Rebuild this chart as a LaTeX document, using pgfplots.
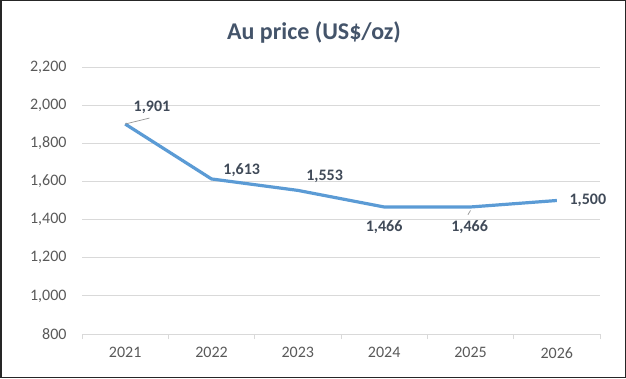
\documentclass[border=0pt]{standalone}
\usepackage{pgfplots}
\pgfplotsset{compat=1.18}
\usepackage{fontspec}
\setmainfont{Carlito}
\definecolor{ttl}{HTML}{44546A}
\definecolor{lbl}{HTML}{404A58}
\definecolor{tck}{HTML}{595959}
\definecolor{grd}{HTML}{D9D9D9}
\definecolor{ln}{HTML}{5B9BD5}
\begin{document}
\begin{tikzpicture}[x=1pt,y=1pt]
\path[use as bounding box] (0,0) rectangle (626,378);
\draw[line width=1.5pt,black!85] (0.75,0.75) rectangle (625.25,377.25);
\node[font=\fontsize{24}{28}\selectfont\bfseries,text=ttl] at (314,346) {Au price (US\$/oz)};
\begin{axis}[
  at={(82pt,44pt)}, anchor=south west,
  scale only axis, width=518pt, height=267pt,
  xmin=-0.5, xmax=5.5, ymin=800, ymax=2200,
  xtick={0,1,2,3,4,5},
  xticklabels={2021,2022,2023,2024,2025,2026},
  minor xtick={-0.5,0.5,1.5,2.5,3.5,4.5,5.5},
  ytick={800,1000,...,2200},
  axis x line=bottom, axis y line=left,
  axis line style={draw=none,-},
  tick align=outside,
  major tick length=0pt,
  minor tick length=5pt,
  minor tick style={draw=grd,line width=0.75pt},
  ytick style={draw=none},
  ymajorgrids, grid style={draw=grd,line width=0.75pt},
  /pgf/number format/assume math mode=true,
  /pgf/number format/1000 sep={,},
  ticklabel style={font=\fontsize{16}{18}\selectfont,text=tck},
  yticklabel style={xshift=-12pt},
  xticklabel style={yshift=-10pt},
  clip=false,
]
\addplot[ln,line width=3.2pt,line join=round] coordinates {
(0,1901) (1,1613) (2,1553) (3,1466) (4,1466) (5,1500)};
\draw[black!40,line width=0.75pt] (axis cs:0,1901) -- (axis cs:0.28,1932);
\draw[black!40,line width=0.75pt] (axis cs:4.0,1448) -- (axis cs:3.97,1425);
\begin{scope}[every node/.style={font=\fontsize{16}{18}\selectfont\bfseries,text=lbl}]
\node at (axis cs:0.31,1991) {1,901};
\node at (axis cs:1.35,1660) {1,613};
\node at (axis cs:2.31,1625) {1,553};
\node at (axis cs:3.0,1359) {1,466};
\node at (axis cs:3.99,1359) {1,466};
\node at (axis cs:5.36,1500) {1,500};
\end{scope}
\end{axis}
\end{tikzpicture}
\end{document}
